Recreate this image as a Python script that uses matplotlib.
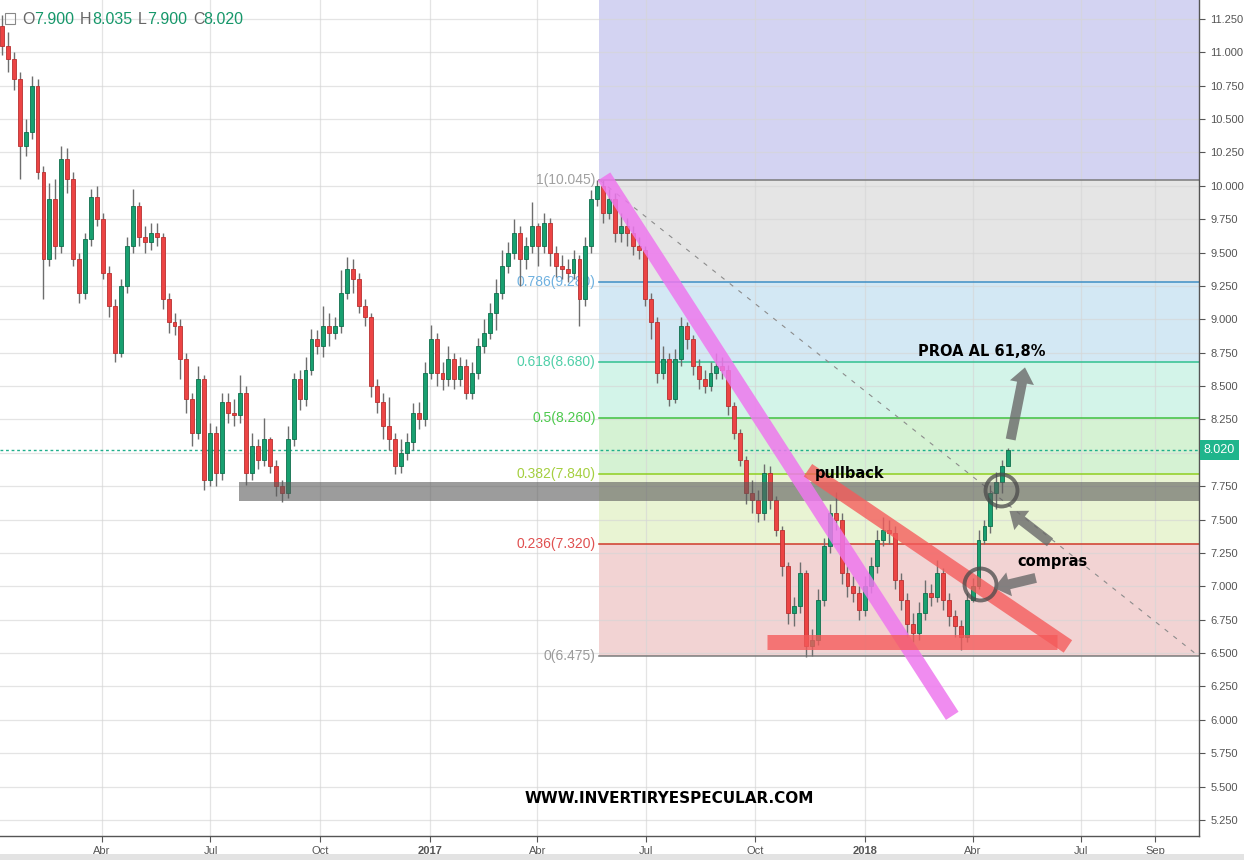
import numpy as np
import pandas as pd
import matplotlib
matplotlib.use("Agg")
import matplotlib.pyplot as plt
import matplotlib.dates as mdates
from matplotlib.patches import Rectangle

plt.rcParams["font.family"] = ["Liberation Sans", "DejaVu Sans"]

# ---- price data (roughly one candle every 5 calendar days) ----
FIRST_OPEN = 11.20
closes = [
    11.05, 10.95, 10.80, 10.30, 10.40, 10.75, 10.10, 9.45, 9.90, 9.55,
    10.20, 10.05, 9.45, 9.20, 9.60, 9.92, 9.75, 9.35, 9.10, 8.75,
    9.25, 9.55, 9.85, 9.62, 9.58, 9.65, 9.62, 9.15, 8.98, 8.95,
    8.70, 8.40, 8.15, 8.55, 7.80, 8.15, 7.85, 8.38, 8.30, 8.28,
    8.45, 7.85, 8.05, 7.95, 8.10, 7.90, 7.75, 7.70, 8.10, 8.55,
    8.40, 8.62, 8.85, 8.80, 8.95, 8.90, 8.95, 9.20, 9.38, 9.30,
    9.10, 9.02, 8.50, 8.38, 8.20, 8.10, 7.90, 8.00, 8.08, 8.30,
    8.25, 8.60, 8.85, 8.60, 8.55, 8.70, 8.55, 8.65, 8.45, 8.60,
    8.80, 8.90, 9.05, 9.20, 9.40, 9.50, 9.65, 9.45, 9.55, 9.70,
    9.55, 9.72, 9.50, 9.40, 9.38, 9.35, 9.45, 9.15, 9.55, 9.90,
    10.00, 9.80, 9.90, 9.65, 9.70, 9.65, 9.55, 9.52, 9.15, 8.98,
    8.60, 8.70, 8.40, 8.70, 8.95, 8.85, 8.65, 8.55, 8.50, 8.60,
    8.65, 8.62, 8.35, 8.15, 7.95, 7.70, 7.65, 7.55, 7.85, 7.65,
    7.42, 7.15, 6.80, 6.85, 7.10, 6.55, 6.60, 6.90, 7.30, 7.55,
    7.50, 7.10, 7.00, 6.95, 6.82, 7.00, 7.15, 7.35, 7.42, 7.40,
    7.05, 6.90, 6.72, 6.65, 6.80, 6.95, 6.92, 7.10, 6.90, 6.78,
    6.70, 6.62, 6.90, 7.00, 7.35, 7.45, 7.70, 7.78, 7.90, 8.02,
]
highs = [
    11.28, 11.15, 11.00, 10.85, 10.50, 10.82, 10.80, 10.15, 10.02, 10.05,
    10.30, 10.28, 10.10, 9.50, 9.65, 9.98, 10.00, 9.80, 9.40, 9.15,
    9.30, 9.62, 9.98, 9.88, 9.70, 9.72, 9.72, 9.65, 9.20, 9.05,
    9.00, 8.75, 8.45, 8.65, 8.58, 8.22, 8.20, 8.45, 8.45, 8.40,
    8.58, 8.50, 8.15, 8.10, 8.26, 8.12, 7.95, 7.80, 8.20, 8.60,
    8.62, 8.72, 8.93, 8.92, 9.10, 9.05, 9.02, 9.37, 9.47, 9.45,
    9.35, 9.15, 9.05, 8.55, 8.45, 8.42, 8.15, 8.10, 8.15, 8.37,
    8.38, 8.68, 8.96, 8.90, 8.68, 8.80, 8.75, 8.72, 8.70, 8.68,
    8.86, 9.00, 9.12, 9.30, 9.52, 9.58, 9.75, 9.70, 9.62, 9.88,
    9.72, 9.80, 9.76, 9.55, 9.48, 9.45, 9.52, 9.48, 9.62, 9.97,
    10.045, 10.04, 9.98, 9.95, 9.80, 9.76, 9.70, 9.62, 9.55, 9.20,
    9.02, 8.80, 8.75, 8.78, 9.02, 8.98, 8.88, 8.70, 8.62, 8.68,
    8.75, 8.72, 8.66, 8.38, 8.18, 7.98, 7.80, 7.72, 7.92, 7.90,
    7.68, 7.45, 7.18, 6.92, 7.18, 7.12, 6.68, 6.98, 7.36, 7.62,
    7.71, 7.55, 7.15, 7.08, 7.00, 7.08, 7.22, 7.42, 7.52, 7.50,
    7.45, 7.10, 6.95, 6.80, 6.88, 7.05, 7.02, 7.20, 7.14, 6.95,
    6.82, 6.75, 6.95, 7.06, 7.42, 7.50, 7.76, 7.86, 7.95, 8.035,
]
lows = [
    10.98, 10.85, 10.72, 10.05, 10.22, 10.35, 10.05, 9.15, 9.40, 9.45,
    9.50, 9.95, 9.40, 9.12, 9.15, 9.55, 9.70, 9.30, 9.02, 8.68,
    8.72, 9.20, 9.50, 9.55, 9.50, 9.52, 9.55, 9.08, 8.90, 8.88,
    8.55, 8.30, 8.05, 8.10, 7.72, 7.75, 7.75, 7.80, 8.22, 8.20,
    8.22, 7.76, 7.80, 7.88, 7.90, 7.85, 7.68, 7.63, 7.66, 8.05,
    8.32, 8.35, 8.58, 8.74, 8.72, 8.80, 8.85, 8.90, 9.15, 9.20,
    9.05, 8.95, 8.42, 8.30, 8.10, 8.02, 7.84, 7.85, 7.95, 8.02,
    8.18, 8.20, 8.55, 8.50, 8.47, 8.50, 8.48, 8.50, 8.40, 8.40,
    8.55, 8.75, 8.85, 8.92, 9.15, 9.35, 9.45, 9.25, 9.38, 9.50,
    9.40, 9.50, 9.40, 9.32, 9.30, 9.28, 9.30, 8.95, 9.10, 9.50,
    9.85, 9.72, 9.75, 9.58, 9.58, 9.55, 9.48, 9.45, 9.10, 8.85,
    8.52, 8.55, 8.35, 8.37, 8.65, 8.78, 8.58, 8.48, 8.45, 8.46,
    8.55, 8.55, 8.28, 8.10, 7.90, 7.62, 7.55, 7.48, 7.50, 7.58,
    7.38, 7.08, 6.72, 6.70, 6.80, 6.47, 6.48, 6.56, 6.85, 7.25,
    7.42, 7.02, 6.92, 6.88, 6.75, 6.78, 6.95, 7.10, 7.30, 7.32,
    6.98, 6.82, 6.62, 6.58, 6.60, 6.75, 6.85, 6.88, 6.82, 6.70,
    6.62, 6.52, 6.58, 6.88, 6.98, 7.32, 7.40, 7.58, 7.70, 7.90,
]
dates = pd.date_range("2016-01-08", "2018-05-01", periods=len(closes))
LAST_PRICE = 8.02

# ---- fibonacci retracement ----
FIB_START = "2017-05-23"
FIB_LABEL_X = "2017-05-20"
fib_levels = ["1", "0.786", "0.618", "0.5", "0.382", "0.236", "0"]
fib_prices = [10.045, 9.280, 8.680, 8.260, 7.840, 7.320, 6.475]
fib_line_colors = ["#7a7a7a", "#3f8fc5", "#30c090", "#40c040", "#8fcf1f", "#d03a2a", "#7a7a7a"]
fib_text_colors = ["#a0a0a0", "#6fb1e0", "#4fcfa8", "#4cc94c", "#a5cf3f", "#e05050", "#9a9a9a"]
fib_fill_colors = ["#e5e5e5", "#d3e8f4", "#d3f4e9", "#d5f2d3", "#e9f4d3", "#f2d3d3"]
FIB_TOP_FILL = "#d3d3f2"

# ---- hand-drawn annotations ----
support_zone = ("2016-07-25", 7.64, 7.785)
magenta_line = (["2017-05-27", "2018-03-15"], [10.07, 6.03])
tri_upper = (["2017-11-14", "2018-06-20"], [7.87, 6.55])
tri_lower = (["2017-10-11", "2018-06-11"], [6.58, 6.58])
circles = [("2018-04-25", 7.72), ("2018-04-07", 7.02)]
arrows = [
    (("2018-05-03", 8.10), ("2018-05-15", 8.64)),
    (("2018-06-05", 7.33), ("2018-05-02", 7.565)),
    (("2018-05-24", 7.063), ("2018-04-19", 6.988)),
]
labels = [
    ("PROA AL 61,8%", "2018-02-14", 8.756),
    ("pullback", "2017-11-20", 7.842),
    ("compras", "2018-05-09", 7.183),
]
WATERMARK = ("WWW.INVERTIRYESPECULAR.COM", "2017-07-21", 5.41)

x_ticks = ["2016-04-01", "2016-07-01", "2016-10-01", "2017-01-01", "2017-04-01",
           "2017-07-01", "2017-10-01", "2018-01-01", "2018-04-01", "2018-07-01",
           "2018-09-01"]
x_tick_labels = ["Abr", "Jul", "Oct", "2017", "Abr", "Jul", "Oct", "2018", "Abr", "Jul", "Sep"]
X_MIN, X_MAX = pd.Timestamp("2016-01-06 12:00"), pd.Timestamp("2018-10-07 22:00")
Y_MIN, Y_MAX = 5.130, 11.392

W, H = 1244, 860
fig = plt.figure(figsize=(W / 100, H / 100), dpi=100)
ax = fig.add_axes([0, 24 / H, 1199 / W, 836 / H])
ax.set_xlim(X_MIN, X_MAX)
ax.set_ylim(Y_MIN, Y_MAX)

# fib backgrounds and lines
fx = [pd.Timestamp(FIB_START), X_MAX]
ax.fill_between(fx, fib_prices[0], Y_MAX, color=FIB_TOP_FILL, lw=0, zorder=0.2)
for i in range(len(fib_fill_colors)):
    ax.fill_between(fx, fib_prices[i + 1], fib_prices[i], color=fib_fill_colors[i], lw=0, zorder=0.2)
for lvl, p, lc, tc in zip(fib_levels, fib_prices, fib_line_colors, fib_text_colors):
    ax.plot(fx, [p, p], color=lc, lw=1.1, zorder=1)
    ax.text(pd.Timestamp(FIB_LABEL_X), p, f"{lvl}({p:.3f})", color=tc, fontsize=10,
            ha="right", va="center", zorder=1)
ax.plot(fx, [fib_prices[0], fib_prices[-1]], color="#8c8c8c", lw=0.8,
        ls=(0, (4, 6)), zorder=2)

# last price line
ax.axhline(LAST_PRICE, color="#1fae8c", lw=1, ls=(0, (2, 2)), zorder=2)

# candles
opens = [FIRST_OPEN] + closes[:-1]
xs = mdates.date2num(dates)
o = np.array(opens)
c = np.array(closes)
up = c >= o
body_col = np.where(up, "#18a070", "#ec4444")
edge_col = np.where(up, "#0f6e4c", "#b83030")
ax.vlines(xs, lows, highs, color="#6e6e6e", lw=1, zorder=3)
ax.bar(xs, np.maximum(np.abs(c - o), 0.012), bottom=np.minimum(o, c), width=3.3,
       color=body_col, edgecolor=edge_col, linewidth=0.6, zorder=4)

# support zone
ax.fill_between([pd.Timestamp(support_zone[0]), X_MAX], support_zone[1], support_zone[2],
                color="#5a5a5a", alpha=0.6, lw=0, zorder=5)

# drawn lines
ax.plot(pd.to_datetime(magenta_line[0]), magenta_line[1], color="#ee78ee", alpha=0.85,
        lw=10.8, solid_capstyle="butt", zorder=6)
for seg in (tri_upper, tri_lower):
    ax.plot(pd.to_datetime(seg[0]), seg[1], color="#f55a5a", alpha=0.78,
            lw=10.8, solid_capstyle="butt", zorder=6)

for d, p in circles:
    ax.plot(pd.Timestamp(d), p, marker="o", ms=23, mfc="none", mec="#4a4a4a",
            mew=2.8, alpha=0.75, zorder=7)
for (td, tp), (hd, hp) in arrows:
    ax.annotate("", xy=(pd.Timestamp(hd), hp), xytext=(pd.Timestamp(td), tp),
                arrowprops=dict(arrowstyle="simple,head_length=0.7,head_width=1.1,tail_width=0.45",
                                mutation_scale=16, color="#6a6a6a", alpha=0.8,
                                shrinkA=0, shrinkB=0, lw=0),
                zorder=7)

for txt, d, p in labels:
    ax.text(pd.Timestamp(d), p, txt, fontsize=10.5, fontweight="bold", family="DejaVu Sans",
            ha="left", va="center", color="black", zorder=8)
ax.text(pd.Timestamp(WATERMARK[1]), WATERMARK[2], WATERMARK[0], fontsize=11,
        fontweight="bold", family="DejaVu Sans", ha="center", va="center", zorder=8)

# axes styling
yticks = np.arange(5.25, 11.26, 0.25)
ax.set_yticks(yticks)
# the 8.000 label is hidden behind the last-price tag, as on the reference
ax.set_yticklabels(["" if abs(v - 8.0) < 1e-9 else f"{v:.3f}" for v in yticks])
ax.yaxis.tick_right()
ax.set_xticks(pd.to_datetime(x_ticks))
ax.set_xticklabels(x_tick_labels)
for lab in ax.get_xticklabels():
    if lab.get_text() in ("2017", "2018"):
        lab.set_fontweight("bold")
ax.tick_params(axis="both", labelsize=8, colors="#555555", length=4, width=0.8)
ax.tick_params(axis="y", pad=4)
ax.grid(True, color="#d6d6d6", alpha=0.65, lw=0.9)
ax.set_axisbelow(True)
for s in ("left", "top"):
    ax.spines[s].set_visible(False)
for s in ("right", "bottom"):
    ax.spines[s].set_color("#555555")
    ax.spines[s].set_linewidth(1)

# last price tag on the axis
ax.text(1.004, LAST_PRICE, f"{LAST_PRICE:.3f}", transform=ax.get_yaxis_transform(),
        fontsize=9, color="white", ha="left", va="center",
        bbox=dict(boxstyle="square,pad=0.3", fc="#1fb58c", ec="none"), zorder=9)

# header with OHLC of the last candle
hy = 1 - 20 / H
header = [("O", 22, "#666666"), ("7.900", 34, "#16976a"), ("H", 80, "#666666"),
          ("8.035", 92, "#16976a"), ("L", 138, "#666666"), ("7.900", 147, "#16976a"),
          ("C", 193, "#666666"), ("8.020", 203, "#16976a")]
for t, px, col in header:
    fig.text(px / W, hy, t, fontsize=11.5, color=col, ha="left", va="center")
fig.patches.append(Rectangle((5 / W, 1 - 24 / H), 10 / W, 11 / H, transform=fig.transFigure,
                             fill=False, ec="#888888", lw=0.8))
fig.patches.append(Rectangle((0, 0), 1, 6 / H, transform=fig.transFigure,
                             color="#e3e3e3", lw=0))

fig.savefig("out.png", dpi=100)
